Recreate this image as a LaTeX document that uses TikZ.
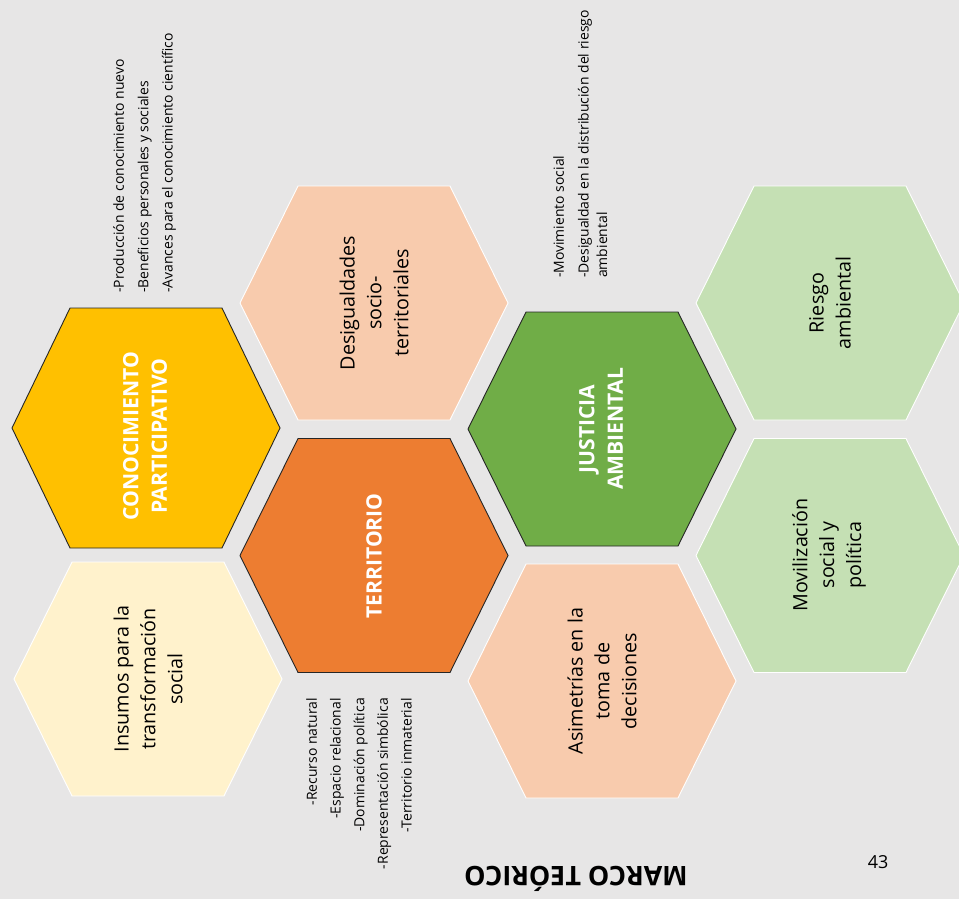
\documentclass[tikz,border=0pt]{standalone}
\usepackage{fontspec}
\setmainfont{Open Sans}
\definecolor{bgc}{HTML}{E7E6E6}
\definecolor{gold}{HTML}{FFC000}
\definecolor{orng}{HTML}{ED7D31}
\definecolor{grn}{HTML}{70AD47}
\definecolor{peach}{HTML}{F8CBAD}
\definecolor{cream}{HTML}{FFF2CC}
\definecolor{lgrn}{HTML}{C5E0B4}
\newcommand\hexat[4]{%
  \path[#4] ({#1-134},{#2}) -- ({#1-76},{#2-#3}) -- ({#1+76},{#2-#3}) --
    ({#1+134},{#2}) -- ({#1+76},{#2+#3}) -- ({#1-76},{#2+#3}) -- cycle;}
\tikzset{
  darkhex/.style={draw=black!85, line width=0.9bp},
  lighthex/.style={draw=white, line width=0.9bp},
  mainlbl/.style={rotate=90, align=center, text=white, inner sep=0,
    font=\bfseries\fontsize{21.2}{28.5}\selectfont},
  sublbl/.style={rotate=90, align=center, text=black, inner sep=0,
    font=\fontsize{19.8}{27}\selectfont},
  note/.style={rotate=90, inner sep=0, text=black,
    font=\fontsize{14}{18.5}\selectfont}
}
\begin{document}
\begin{tikzpicture}[x=1bp,y=-1bp]
\useasboundingbox (0,0) rectangle (959,899);
\fill[bgc] (0,0) rectangle (959,899);
\begin{scope}
\clip (0,0) rectangle (959,899);
\hexat{146}{428}{120}{fill=gold, darkhex}
\hexat{148}{679}{117}{fill=cream, lighthex}
\hexat{374}{303}{117}{fill=peach, lighthex}
\hexat{374}{555.5}{117}{fill=orng, darkhex}
\hexat{602}{429}{117}{fill=grn, darkhex}
\hexat{602}{681}{117}{fill=peach, lighthex}
\hexat{830}{303}{117}{fill=lgrn, lighthex}
\hexat{830}{555.5}{117}{fill=lgrn, lighthex}
\end{scope}

\node[mainlbl] (conoc) at (145,436) {CONOCIMIENTO\\PARTICIPATIVO};
\node[mainlbl] (terr) at (374,556) {TERRITORIO};
\node[mainlbl] (just) at (601,429) {JUSTICIA\\AMBIENTAL};

\node[sublbl] (insumos) at (148,679) {Insumos para la\\transformación\\social};
\node[sublbl] (desig) at (374,303) {Desigualdades\\socio-\\territoriales};
\node[sublbl] (asim) at (602,681) {Asimetrías en la\\toma de\\decisiones};
\node[sublbl] (riesgo) at (830,303) {Riesgo\\ambiental};
\node[sublbl] (movil) at (829,555) {Movilización\\social y\\política};

\node[note, anchor=north west, align=left] (nconoc) at (113,293)
  {-Producción de conocimiento nuevo\\[6bp]-Beneficios personales y sociales\\[6bp]-Avances para el conocimiento científico};
\node[note, anchor=north west, align=left] (njust) at (553,278)
  {-Movimiento social\\[6.5bp]-Desigualdad en la distribución del riesgo\\ambiental};
\node[note, anchor=north east, align=right] (nterr) at (306,698)
  {-Recurso natural\\[5.3bp]-Espacio relacional\\[5.3bp]-Dominación política\\[5.3bp]-Representación simbólica\\[5.3bp]-Territorio inmaterial};

\node[rotate=180, inner sep=0, font=\bfseries\fontsize{27}{30}\selectfont] (titulo) at (576,879) {MARCO TEÓRICO};
\node[inner sep=0, font=\fontsize{18}{20}\selectfont] (pagina) at (878,862) {43};
\end{tikzpicture}
\end{document}
